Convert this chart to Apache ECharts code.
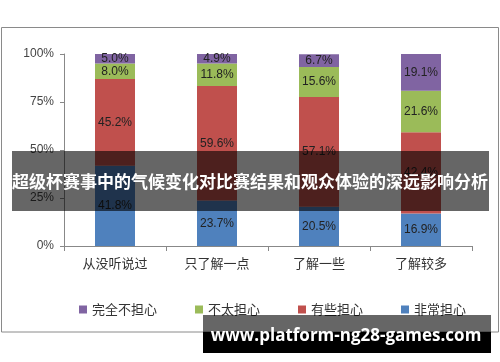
<!DOCTYPE html>
<html><head><meta charset="utf-8">
<script src="https://cdn.jsdelivr.net/npm/echarts@6/dist/echarts.min.js"></script>
<style>html,body{margin:0;padding:0;background:#fff}#c{width:500px;height:362px}</style>
</head><body><div id="c"></div>
<script>
const categories = ['从没听说过', '只了解一点', '了解一些', '了解较多'];
const veryWorried = [41.8, 23.7, 20.5, 16.9];
const someWorried = [45.2, 59.6, 57.1, 42.4];
const notMuchWorried = [8.0, 11.8, 15.6, 21.6];
const notWorried = [5.0, 4.9, 6.7, 19.1];
const seriesNames = ['非常担心', '有些担心', '不太担心', '完全不担心'];
const legendOrder = ['完全不担心', '不太担心', '有些担心', '非常担心'];
const yTicks = [0, 25, 50, 75, 100];
const titleText = '超级杯赛事中的气候变化对比赛结果和观众体验的深远影响分析';
const siteText = 'www.platform-ng28-games.com';

const colors = ['#4F81BD', '#C0504D', '#9BBB59', '#8064A2'];
const dataSets = [veryWorried, someWorried, notMuchWorried, notWorried];
const font = '"Noto Sans CJK SC", "Liberation Sans", sans-serif';

const chart = echarts.init(document.getElementById('c'), null, {renderer: 'canvas'});
chart.setOption({
  animation: false,
  textStyle: {fontFamily: font},
  grid: {left: 64, right: 28, top: 54, bottom: 116},
  legend: {
    data: legendOrder,
    left: 74, top: 298,
    itemWidth: 8, itemHeight: 8, itemGap: 38,
    icon: 'rect',
    textStyle: {fontSize: 13, color: '#333', fontFamily: font}
  },
  xAxis: {
    type: 'category', data: categories,
    axisLine: {lineStyle: {color: '#888'}},
    axisTick: {show: true, length: 5, lineStyle: {color: '#888'}},
    axisLabel: {fontSize: 13, color: '#333', margin: 11}
  },
  yAxis: {
    type: 'value', min: yTicks[0], max: yTicks[yTicks.length - 1], interval: 25,
    axisLine: {show: true, lineStyle: {color: '#888'}},
    axisTick: {show: true, length: 4, lineStyle: {color: '#888'}},
    splitLine: {show: false},
    axisLabel: {formatter: '{value}%', fontSize: 12, color: '#444', margin: 10, fontFamily: '"Liberation Sans", sans-serif'}
  },
  series: seriesNames.map((n, i) => ({
    name: n, type: 'bar', stack: 'total', data: dataSets[i],
    barWidth: 40,
    itemStyle: {color: colors[i]},
    label: {show: true, position: 'inside', fontSize: 12, color: '#222',
      fontFamily: '"Liberation Sans", sans-serif',
      formatter: p => p.value.toFixed(1) + '%'}
  })),
  graphic: [
    {type: 'rect', z: 100, shape: {x: 1.5, y: 27.5, width: 497, height: 304.5},
      style: {fill: 'none', stroke: '#8a8a8a', lineWidth: 1}},
    {type: 'rect', z: 100, shape: {x: 12, y: 151, width: 477, height: 60},
      style: {fill: 'rgba(0,0,0,0.6)'}},
    {type: 'text', z: 101, left: 'center', top: 173,
      style: {text: titleText, fill: '#fff', font: 'bold 17px "Noto Sans CJK SC", sans-serif'}},
    {type: 'rect', z: 100, shape: {x: 203, y: 315, width: 288, height: 17},
      style: {fill: 'rgba(0,0,0,0.6)'}},
    {type: 'rect', z: 100, shape: {x: 203, y: 332, width: 288, height: 21},
      style: {fill: '#000'}},
    {type: 'text', z: 101,
      style: {x: 346, y: 336, text: siteText, fill: '#fff', textAlign: 'center', textVerticalAlign: 'middle',
        font: 'bold 17px "Open Sans", sans-serif'}}
  ]
});
</script></body></html>
